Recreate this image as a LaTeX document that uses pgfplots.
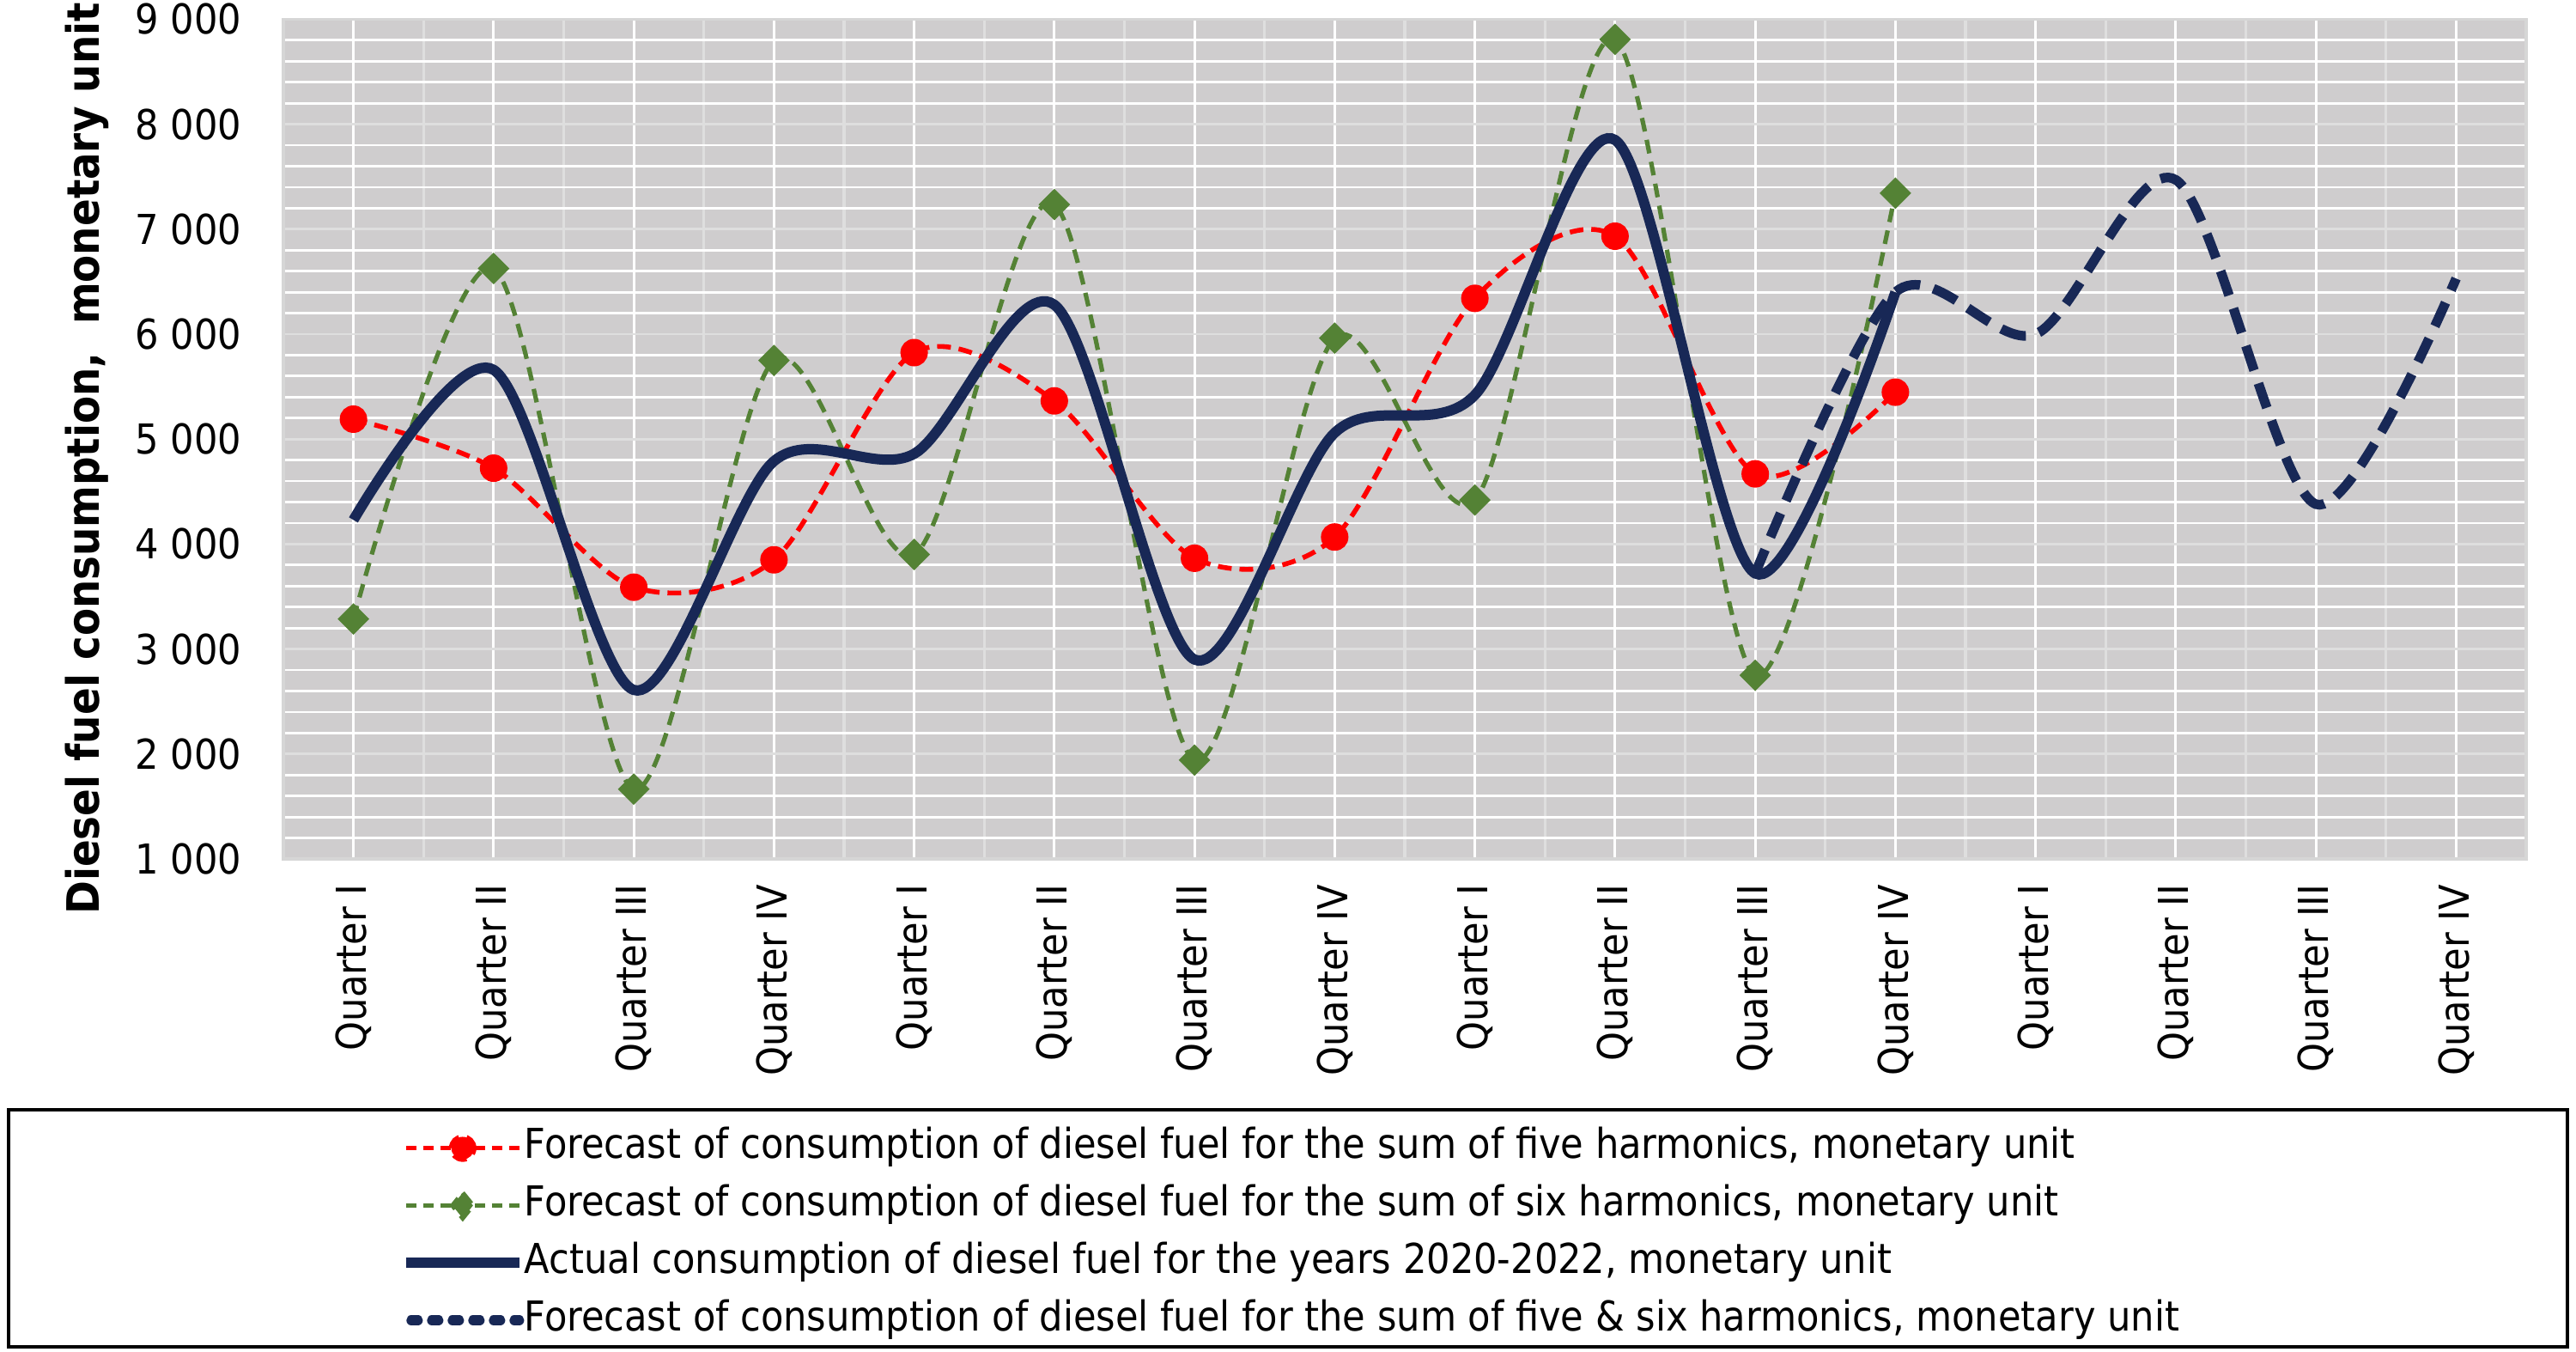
\documentclass[border=0pt]{standalone}
\usepackage{pgfplots}
\pgfplotsset{compat=1.18}
\usepackage{fontspec}
\setmainfont{DejaVu Sans Condensed}
\usetikzlibrary{calc}
\definecolor{bgg}{RGB}{207,205,206}
\definecolor{majg}{RGB}{222,222,222}
\definecolor{axg}{RGB}{214,214,214}
\definecolor{fgreen}{RGB}{84,130,53}
\definecolor{navy}{RGB}{24,40,86}
\begin{document}
\begin{tikzpicture}
\begin{axis}[
  scale only axis, width=653pt, height=244.4pt,
  xmin=-0.5, xmax=15.5, ymin=1000, ymax=9000,
  clip=false,
  axis background/.style={fill=bgg},
  axis line style={draw=axg, line width=0.8pt},
  xtick={0,...,15},
  xticklabels={Quarter I,Quarter II,Quarter III,Quarter IV,Quarter I,Quarter II,Quarter III,Quarter IV,Quarter I,Quarter II,Quarter III,Quarter IV,Quarter I,Quarter II,Quarter III,Quarter IV},
  minor x tick num=1,
  ytick={1000,2000,3000,4000,5000,6000,7000,8000,9000},
  yticklabels={1 000,2 000,3 000,4 000,5 000,6 000,7 000,8 000,9 000},
  minor y tick num=4,
  xmajorgrids, xminorgrids, ymajorgrids, yminorgrids,
  major x grid style={white, line width=0.8pt},
  minor x grid style={majg, line width=0.8pt},
  major y grid style={majg, line width=0.7pt},
  minor y grid style={white, line width=0.7pt},
  major tick length=0pt, minor tick length=0pt,
  tick style={draw=none},
  tick label style={font=\fontsize{12}{14}\selectfont},
  xticklabel style={rotate=90, anchor=east, inner sep=0pt},
  xticklabel shift=7.25pt,
  yticklabel style={inner sep=0pt},
  yticklabel shift=12pt,
  ylabel={Diesel fuel consumption,~ monetary unit},
  every axis y label/.style={at={(axis description cs:-0.0875,0.4767)}, rotate=90, anchor=center, font=\fontsize{13}{15}\selectfont\bfseries},
  legend style={at={(0.0521,-0.319)}, anchor=north west, draw=none, fill=none,
    font=\fontsize{12}{14}\selectfont, row sep=4.7pt, inner sep=0pt,
    nodes={inner sep=0pt, text height=9pt, text depth=3pt},
    /tikz/every odd column/.append style={column sep=0pt}},
  legend cell align=left,
]
\addplot[red, line width=1.4pt, dash pattern=on 4pt off 2.3pt, smooth, mark=*, mark size=3.3pt, mark options={solid, fill=red, draw=red},
  legend image code/.code={\draw[red, line width=1.4pt, dash pattern=on 3pt off 2pt] (0pt,0pt) -- (33pt,0pt); \fill[red] (16.5pt,0pt) circle (3.3pt);}]
  coordinates {(0,5190) (1,4723) (2,3589) (3,3850) (4,5824) (5,5364) (6,3865) (7,4067) (8,6341) (9,6933) (10,4669) (11,5447)};
\addlegendentry{Forecast of consumption of diesel fuel for the sum of five harmonics, monetary unit}
\addplot[fgreen, line width=1.3pt, dash pattern=on 4pt off 2.5pt, smooth, mark=square*, mark size=2.6pt, mark options={solid, rotate=45, fill=fgreen, draw=fgreen},
  legend image code/.code={\draw[fgreen, line width=1.3pt, dash pattern=on 3pt off 2pt] (0pt,0pt) -- (33pt,0pt); \fill[fgreen] (16.5pt,3.7pt) -- (19.5pt,0pt) -- (16.5pt,-3.7pt) -- (13.5pt,0pt) -- cycle;}]
  coordinates {(0,3287) (1,6626) (2,1665) (3,5749) (4,3901) (5,7235) (6,1942) (7,5962) (8,4420) (9,8808) (10,2750) (11,7344)};
\addlegendentry{Forecast of consumption of diesel fuel for the sum of six harmonics, monetary unit}
\addplot[navy, line width=3pt, smooth, no marks,
  legend image code/.code={\draw[navy, line width=3pt] (0pt,0pt) -- (33pt,0pt);}]
  coordinates {(0,4230) (1,5660) (2,2610) (3,4790) (4,4860) (5,6280) (6,2900) (7,5060) (8,5420) (9,7850) (10,3720) (11,6400)};
\addlegendentry{Actual consumption of diesel fuel for the years 2020-2022, monetary unit}
\addplot[navy, line width=2.8pt, dash pattern=on 7.5pt off 4pt, smooth, no marks,
  legend image code/.code={\draw[navy, line width=2.8pt, line cap=round, dash pattern=on 2pt off 4pt] (1.5pt,0pt) -- (33pt,0pt);}]
  coordinates {(10,3720) (11,6400) (12,6000) (13,7470) (14,4380) (15,6530)};
\addlegendentry{Forecast of consumption of diesel fuel for the sum of five \& six harmonics, monetary unit}
\draw[black, line width=1.2pt] (axis description cs:-0.1225,-0.2987) rectangle (axis description cs:1.0184,-0.581);
\end{axis}
\pgfresetboundingbox
\path ($(current axis.south west)+(-82.5pt,-143.5pt)$) rectangle ($(current axis.north east)+(14.5pt,5.6pt)$);
\end{tikzpicture}
\end{document}
